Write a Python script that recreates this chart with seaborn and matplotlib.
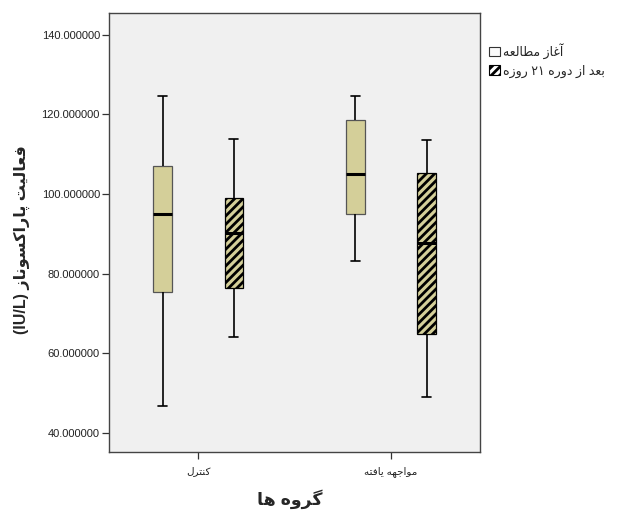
import re
import pandas as pd
import matplotlib
matplotlib.use('Agg')
import matplotlib.pyplot as plt
from matplotlib.patches import Patch
from matplotlib.ticker import FormatStrFormatter
import seaborn as sns

# data (five-number summaries per box)
groups = ['کنترل', 'مواجهه یافته']
times = ['آغاز مطالعه', 'بعد از دوره ۲۱ روزه']
control_start = [46.8, 75.5, 95.1, 107.0, 124.7]
control_after = [64.0, 76.4, 90.1, 98.9, 113.7]
exposed_start = [83.1, 95.1, 105.1, 118.6, 124.7]
exposed_after = [49.0, 64.9, 87.8, 105.3, 113.5]
y_ticks = [40, 60, 80, 100, 120, 140]

x_title = 'گروه ها'
y_title = 'فعالیت پاراکسوناز (IU/L)'

# minimal persian shaping: (isolated, final, initial, medial)
FORMS = {
    'ا': ('\uFE8D', '\uFE8E', None, None),
    'آ': ('\uFE81', '\uFE82', None, None),
    'ب': ('\uFE8F', '\uFE90', '\uFE91', '\uFE92'),
    'پ': ('\uFB56', '\uFB57', '\uFB58', '\uFB59'),
    'ت': ('\uFE95', '\uFE96', '\uFE97', '\uFE98'),
    'ج': ('\uFE9D', '\uFE9E', '\uFE9F', '\uFEA0'),
    'د': ('\uFEA9', '\uFEAA', None, None),
    'ر': ('\uFEAD', '\uFEAE', None, None),
    'ز': ('\uFEAF', '\uFEB0', None, None),
    'س': ('\uFEB1', '\uFEB2', '\uFEB3', '\uFEB4'),
    'ط': ('\uFEC1', '\uFEC2', '\uFEC3', '\uFEC4'),
    'ع': ('\uFEC9', '\uFECA', '\uFECB', '\uFECC'),
    'غ': ('\uFECD', '\uFECE', '\uFECF', '\uFED0'),
    'ف': ('\uFED1', '\uFED2', '\uFED3', '\uFED4'),
    'ک': ('\uFB8E', '\uFB8F', '\uFB90', '\uFB91'),
    'گ': ('\uFB92', '\uFB93', '\uFB94', '\uFB95'),
    'ل': ('\uFEDD', '\uFEDE', '\uFEDF', '\uFEE0'),
    'م': ('\uFEE1', '\uFEE2', '\uFEE3', '\uFEE4'),
    'ن': ('\uFEE5', '\uFEE6', '\uFEE7', '\uFEE8'),
    'ه': ('\uFEE9', '\uFEEA', '\uFEEB', '\uFEEC'),
    'و': ('\uFEED', '\uFEEE', None, None),
    'ی': ('\uFBFC', '\uFBFD', '\uFBFE', '\uFBFF'),
}
LTR = r'[0-9A-Za-z\u06F0-\u06F9()/]+'


def shape(text):
    out = []
    for i, ch in enumerate(text):
        if ch not in FORMS:
            out.append(ch)
            continue
        f = FORMS[ch]
        prev = text[i - 1] if i > 0 else ''
        nxt = text[i + 1] if i + 1 < len(text) else ''
        jp = prev in FORMS and FORMS[prev][2] is not None
        jn = nxt in FORMS and f[2] is not None
        if jp and jn:
            out.append(f[3])
        elif jp:
            out.append(f[1])
        elif jn:
            out.append(f[2])
        else:
            out.append(f[0])
    return ''.join(out)


def rtl(text):
    runs = re.findall(LTR + '|' + LTR.replace('[', '[^', 1), shape(text))
    return ''.join(r if re.fullmatch(LTR, r) else r[::-1] for r in reversed(runs))


rows = []
for g, t, vals in [(groups[0], times[0], control_start), (groups[0], times[1], control_after),
                   (groups[1], times[0], exposed_start), (groups[1], times[1], exposed_after)]:
    for v in vals:
        rows.append({'group': g, 'time': t, 'value': v})
df = pd.DataFrame(rows)

sns.set_style('ticks')
plt.rcParams['font.family'] = ['Liberation Sans', 'DejaVu Sans']
plt.rcParams['hatch.linewidth'] = 2.0

tan = '#D4CF99'
fig = plt.figure(figsize=(6.27, 5.11), dpi=100)
ax = fig.add_axes([0.1738, 0.1149, 0.5917, 0.859])
ax.set_facecolor('#F0F0F0')

sns.boxplot(data=df, x='group', y='value', hue='time', order=groups, hue_order=times,
            palette=[tan, tan], saturation=1, width=0.74, gap=0.74, whis=(0, 100),
            linecolor='black', linewidth=1.0, legend=False, ax=ax,
            boxprops={'edgecolor': '#555555', 'linewidth': 0.9},
            medianprops={'color': 'black', 'linewidth': 2.2},
            whiskerprops={'color': 'black', 'linewidth': 1.2},
            capprops={'color': 'black', 'linewidth': 1.2})

for p in ax.patches:
    xs = p.get_path().vertices[:, 0]
    xm = xs.mean()
    if xm - round(xm) > 0:
        p.set_hatch('////')
        p.set_edgecolor('black')

ax.set_xlim(-0.463, 1.462)
ax.set_ylim(35.1, 145.4)
ax.set_yticks(y_ticks)
ax.yaxis.set_major_formatter(FormatStrFormatter('%.6f'))
ax.set_xticks([0, 1], [rtl(g) for g in groups])
ax.tick_params(axis='y', labelsize=8, length=5, width=0.9, color='#333333', pad=1.5, labelcolor='#222222')
ax.tick_params(axis='x', labelsize=7.5, length=5, width=0.9, color='#333333', pad=5, labelcolor='#222222')
for s in ax.spines.values():
    s.set_visible(True)
    s.set_color('#444444')
    s.set_linewidth(1.0)

ax.set_xlabel(rtl(x_title), fontsize=12.5, fontweight='bold', va='top')
ax.set_ylabel(rtl(y_title), fontsize=11.5, fontweight='bold', va='center')
ax.xaxis.set_label_coords(0.488, -0.084)
ax.yaxis.set_label_coords(-0.235, 0.484)

handles = [Patch(facecolor='#FAFAFA', edgecolor='#333333', linewidth=0.8),
           Patch(facecolor='white', edgecolor='black', linewidth=0.8, hatch='////')]
fig.legend(handles, [rtl(t) for t in times], loc='upper left',
           bbox_to_anchor=(489 / 627, 1 - 43 / 511), frameon=False, fontsize=9,
           handlelength=0.85, handleheight=0.85, handletextpad=0.3, labelspacing=0.45,
           borderpad=0, borderaxespad=0)

fig.savefig('out.png', dpi=100)
